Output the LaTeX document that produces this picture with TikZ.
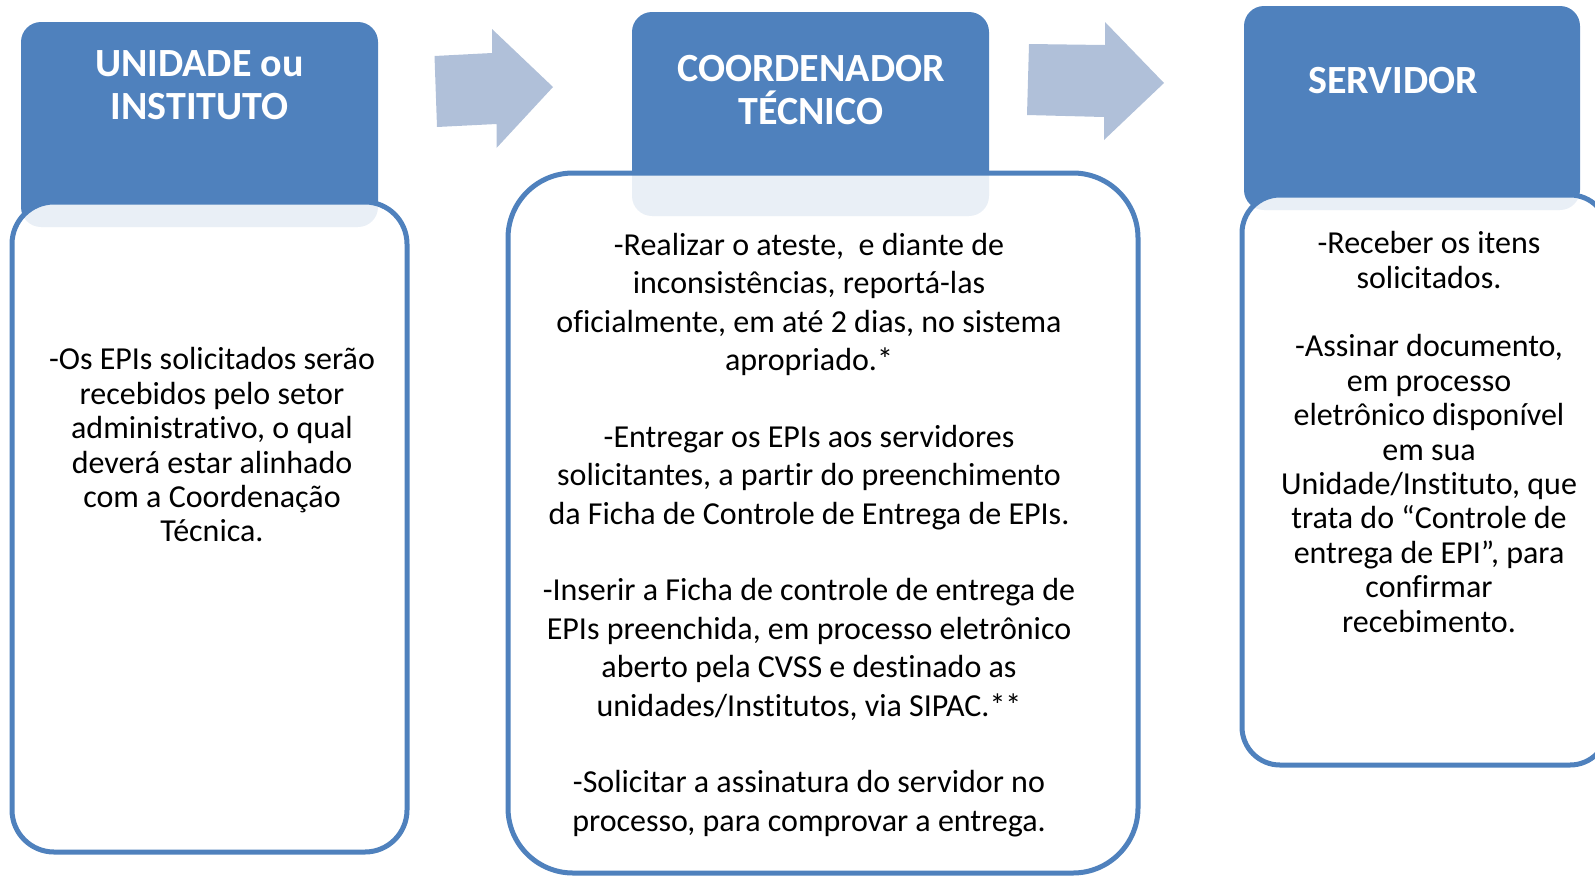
\documentclass[tikz,border=0pt]{standalone}
\usepackage{fontspec}
\setmainfont{Carlito}[Ligatures=NoCommon]
\usetikzlibrary{positioning}
\definecolor{hdblue}{RGB}{79,129,189}
\definecolor{arrowgray}{RGB}{176,192,217}
\tikzset{>=latex}

\begin{document}
\begin{tikzpicture}[x=1pt, y=-1pt]
\tikzset{head/.style={fill=hdblue, rounded corners=20pt},
  panel/.style={draw=hdblue, line width=5pt, fill=white, fill opacity=0.88},
  headtext/.style={text=white, font=\fontsize{40}{43}\selectfont\bfseries, align=center},
  bodytext/.style={font=\fontsize{32}{34.4}\selectfont, align=center, inner sep=0pt}}
    \path[use as bounding box] (0,0) rectangle (1595,876);
    \clip (0,0) rectangle (1595,876);

    \coordinate (H1a) at (21,22);
    \coordinate (H1b) at (378,227);
    \coordinate (P1a) at (12,202);
    \coordinate (P1b) at (407,852);

    \coordinate (H2a) at (632,12);
    \coordinate (H2b) at (989,216);
    \coordinate (P2a) at (508,173);
    \coordinate (P2b) at (1138,873);

    \coordinate (H3a) at (1244,6);
    \coordinate (H3b) at (1580,210);
    \coordinate (P3a) at (1242,195);
    \coordinate (P3b) at (1608,765);

    \fill[head] (H1a) rectangle (H1b);
    \fill[head] (H2a) rectangle (H2b);
    \fill[head] (H3a) rectangle (H3b);

    \draw[panel, rounded corners=42pt] (P1a) rectangle (P1b);
    \draw[panel, rounded corners=65pt] (P2a) rectangle (P2b);
    \draw[panel, rounded corners=38pt] (P3a) rectangle (P3b);
% % % % % % % % % % % % % % % % % % %
    \fill[arrowgray] (434.5,56) -- (492,53) -- (492,29) -- (553,87)
        -- (496.5,148) -- (496.5,124) -- (437,127) -- cycle;
    \fill[arrowgray] (1029,44) -- (1105,45) -- (1105,22) -- (1164,83)
        -- (1104,140) -- (1104,117) -- (1027,115) -- cycle;
% % % % % % % % % % % % % % % % % % %
    \node[headtext] (unidade) at (199.5,85) {UNIDADE ou\\INSTITUTO};
    \node[headtext] (coord) at (811,90.5) {COORDENADOR\\TÉCNICO};
    \node[headtext] (servidor) at (1393,81) {SERVIDOR};

    \node[bodytext] (txtA) at (212,445) {-Os EPIs solicitados serão\\recebidos pelo setor\\administrativo, o qual\\deverá estar alinhado\\com a Coordenação\\Técnica.};
    \node[bodytext, font=\fontsize{32}{38.4}\selectfont] (txtB) at (809,535) {-Realizar o ateste,\ \ e diante de\\inconsistências, reportá-las\\oficialmente, em até 2 dias, no sistema\\apropriado.*\\[38.4pt]-Entregar os EPIs aos servidores\\solicitantes, a partir do preenchimento\\da Ficha de Controle de Entrega de EPIs.\\[38.4pt]-Inserir a Ficha de controle de entrega de\\EPIs preenchida, em processo eletrônico\\aberto pela CVSS e destinado as\\unidades/Institutos, via SIPAC.**\\[38.4pt]-Solicitar a assinatura do servidor no\\processo, para comprovar a entrega.};
    \node[bodytext] (txtC) at (1429,432) {-Receber os itens\\solicitados.\\[34.4pt]-Assinar documento,\\em processo\\eletrônico disponível\\em sua\\Unidade/Instituto, que\\trata do “Controle de\\entrega de EPI”, para\\confirmar\\recebimento.};
\end{tikzpicture}
\end{document}
